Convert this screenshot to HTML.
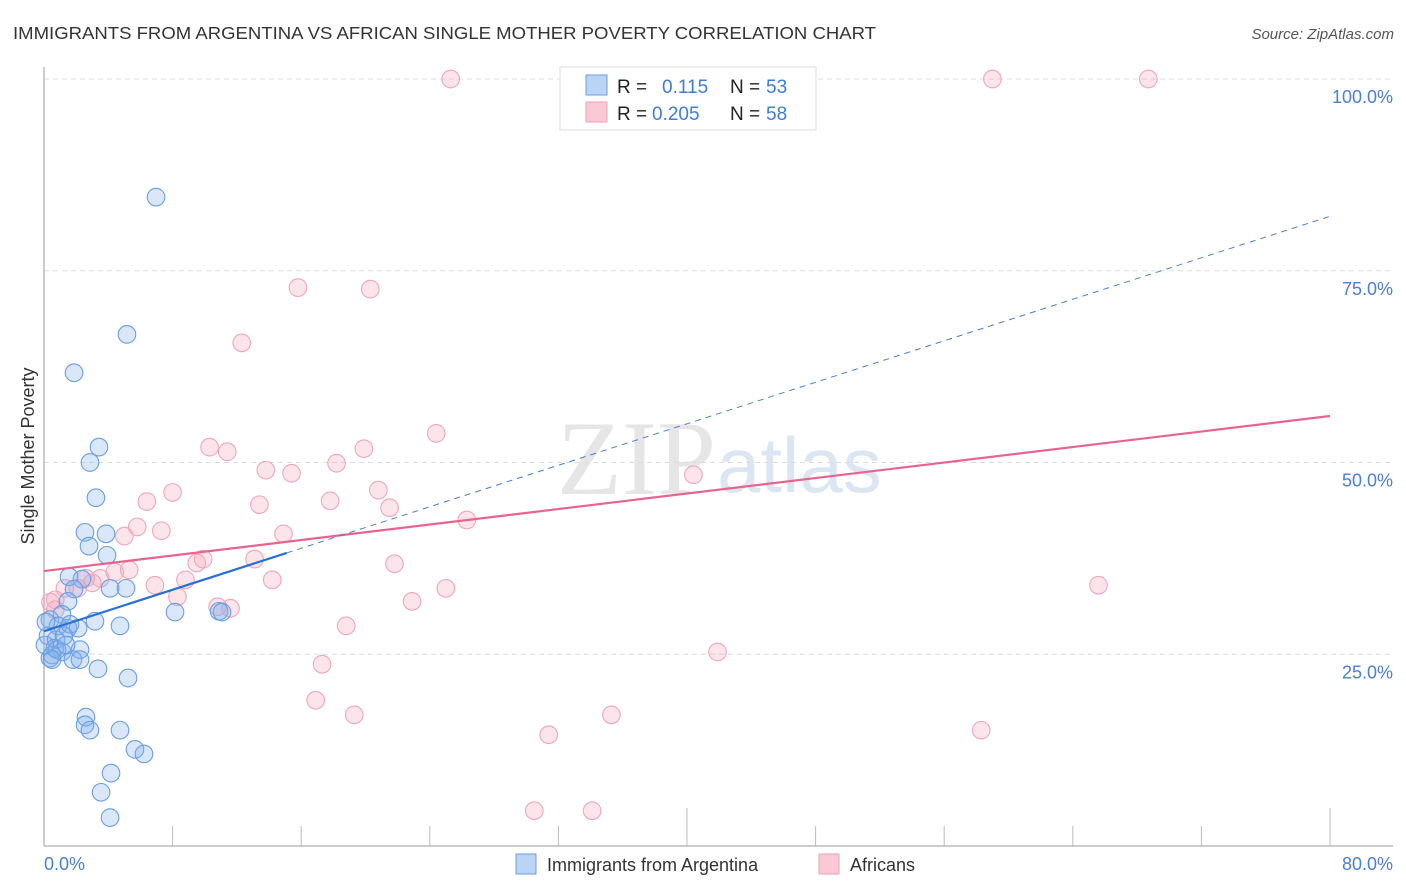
<!DOCTYPE html>
<html><head><meta charset="utf-8">
<style>
body{margin:0;background:#fff;font-family:"Liberation Sans",sans-serif;}
svg{display:block}
</style></head>
<body>
<svg id="chart" width="1406" height="892">
<text x="13" y="39" font-size="17.5" fill="#333" textLength="863" lengthAdjust="spacingAndGlyphs">IMMIGRANTS FROM ARGENTINA VS AFRICAN SINGLE MOTHER POVERTY CORRELATION CHART</text>
<text x="1394" y="39" font-size="15" fill="#555" font-style="italic" text-anchor="end">Source: ZipAtlas.com</text>
<text x="716" y="494" font-size="106" fill="#e6e6e6" text-anchor="end" font-family="Liberation Serif,serif">ZIP</text>
<text x="717" y="492" font-size="78" fill="#dce6f3">atlas</text>
<g id="grid"></g>
<g id="axes"></g>
<g id="pts"></g>
<g id="lines"></g>
<text transform="translate(34,456) rotate(-90)" font-size="18" fill="#333" text-anchor="middle">Single Mother Poverty</text>
<text x="44" y="870" font-size="18" fill="#4a7fd4">0.0%</text>
<text x="1393" y="870" font-size="18" fill="#4a7fd4" text-anchor="end">80.0%</text>
<g>
<rect x="560" y="67" width="256" height="63" fill="#fff" stroke="#ddd"/>
<rect x="586" y="75" width="21" height="20" fill="#b9d4f5" stroke="#6a9ee0"/>
<rect x="586" y="102" width="21" height="20" fill="#fcc8d6" stroke="#eda0b7"/>
<text x="617" y="93" font-size="19" fill="#222">R =</text>
<text x="662" y="93" font-size="19" fill="#3d7dd8">0.115</text>
<text x="730" y="93" font-size="19" fill="#222">N =</text>
<text x="766" y="93" font-size="19" fill="#3d7dd8">53</text>
<text x="617" y="120" font-size="19" fill="#222">R =</text>
<text x="652" y="120" font-size="19" fill="#3d7dd8">0.205</text>
<text x="730" y="120" font-size="19" fill="#222">N =</text>
<text x="766" y="120" font-size="19" fill="#3d7dd8">58</text>
</g>
<g>
<rect x="516" y="854" width="20" height="20" fill="#b9d4f5" stroke="#6a9ee0"/>
<text x="547" y="871" font-size="18" fill="#333">Immigrants from Argentina</text>
</g>
<g>
<rect x="819" y="854" width="20" height="20" fill="#fcc8d6" stroke="#eda0b7"/>
<text x="850" y="871" font-size="18" fill="#333">Africans</text>
</g>
</svg>
<script>
const yTicks=[25,50,75,100];
const yTickLabels=["25.0%","50.0%","75.0%","100.0%"];
const xTicks=[0,8,16,24,32,40,48,56,64,72,80];
const blueX=[6.97,5.16,1.87,3.42,2.86,3.23,2.55,3.86,2.80,3.92,1.56,2.36,4.11,5.10,1.87,1.49,1.12,3.17,4.73,8.15,10.89,11.07,0.37,0.87,1.49,1.62,0.25,0.75,2.24,0.68,1.12,0.37,1.80,2.24,3.36,5.23,2.61,2.55,2.86,4.73,5.66,6.22,4.17,3.55,4.11,0.50,0.81,0.12,1.24,0.5,2.12,1.37,0.06];
const blueY=[84.6,66.7,61.7,52.0,50.0,45.4,40.9,40.7,39.1,37.9,35.1,34.8,33.6,33.6,33.5,31.9,30.2,29.3,28.7,30.5,30.6,30.5,29.5,28.7,28.4,28.9,27.4,26.9,25.6,25.8,25.3,24.5,24.3,24.3,23.1,21.9,16.8,15.8,15.1,15.1,12.6,12.0,9.5,7.0,3.7,24.9,25.6,29.2,27.4,24.3,28.4,26.2,26.2];
const pinkX=[25.3,59.0,68.7,15.8,20.3,12.3,24.4,10.3,11.4,19.9,18.2,13.8,15.4,40.4,8.0,6.4,17.8,20.8,13.4,21.5,26.3,5.8,7.3,5.0,14.9,9.9,9.5,13.1,21.8,5.3,4.4,3.5,2.6,3.0,6.9,8.8,14.2,25.0,65.6,1.3,2.1,0.4,0.7,8.3,22.9,10.8,11.6,18.8,41.9,17.3,16.9,19.3,58.3,31.4,35.3,30.5,34.1,0.7];
const pinkY=[100,100,100,72.8,72.6,65.6,53.8,52.0,51.4,51.8,49.9,49.0,48.6,48.4,46.1,44.9,45.0,46.4,44.5,44.1,42.5,41.6,41.1,40.4,40.7,37.4,36.9,37.4,36.8,36.0,35.7,34.9,34.9,34.3,34.0,34.7,34.7,33.6,34.0,33.6,33.6,31.8,32.1,32.5,31.9,31.2,31.0,28.7,25.3,23.7,19.0,17.1,15.1,14.5,17.1,4.6,4.6,30.8];
const blueTrend=[28.0,82.1];
const blueSolidEnd=15.1;
const pinkTrend=[35.85,56.06];

const NS="http://www.w3.org/2000/svg";
const X=v=>44+v/80*1286;
const Y=v=>846-v/100*767;
function mk(tag,attrs,parent){const e=document.createElementNS(NS,tag);for(const k in attrs)e.setAttribute(k,attrs[k]);parent.appendChild(e);return e;}
const grid=document.getElementById('grid'),axes=document.getElementById('axes'),pts=document.getElementById('pts'),lines=document.getElementById('lines');
yTicks.forEach((t,i)=>{
  const l=mk('line',{x1:44,x2:1393,y1:Y(t),y2:Y(t),stroke:'#ddd','stroke-dasharray':'5,4'},grid);
  
  
  const tx=mk('text',{x:1393,y:Y(t)+24,'font-size':18,fill:'#4a7fd4','text-anchor':'end'},grid);
  tx.textContent=yTickLabels[i];
  
  
});
const ya=mk('line',{x1:44,x2:44,y1:67,y2:846,stroke:'#bbb','stroke-width':1.5},axes);


const xa=mk('line',{x1:44,x2:1393,y1:846,y2:846,stroke:'#bbb','stroke-width':1.5},axes);


xTicks.forEach((t,i)=>{
  const tall=(t===40||t===80);
  const tk=mk('line',{x1:X(t),x2:X(t),y1:tall?808:826,y2:846,stroke:'#bbb'},axes);
  
  
});
function dots(xs,ys,fill,stroke,name){
  xs.forEach((v,i)=>{
    const c=mk('circle',{cx:X(v),cy:Y(ys[i]),r:8.8,fill:fill,stroke:stroke,'stroke-width':1.1},pts);
    
    
  });
}
dots(pinkX,pinkY,'rgba(246,165,190,0.3)','#efa6bc','africans-point');
dots(blueX,blueY,'rgba(130,175,235,0.3)','#6a9ee3','argentina-point');
const pl=mk('line',{x1:X(0),y1:Y(pinkTrend[0]),x2:X(80),y2:Y(pinkTrend[1]),stroke:'#e8648f','stroke-width':2.2},lines);


const bAt=v=>blueTrend[0]+(blueTrend[1]-blueTrend[0])*v/80;
const bd=mk('line',{x1:X(blueSolidEnd),y1:Y(bAt(blueSolidEnd)),x2:X(80),y2:Y(blueTrend[1]),stroke:'#4a7fd4','stroke-width':1,'stroke-dasharray':'6,5'},lines);


const bl=mk('line',{x1:X(0),y1:Y(blueTrend[0]),x2:X(blueSolidEnd),y2:Y(bAt(blueSolidEnd)),stroke:'#2a6fd6','stroke-width':2.2},lines);


</script>
</body></html>
